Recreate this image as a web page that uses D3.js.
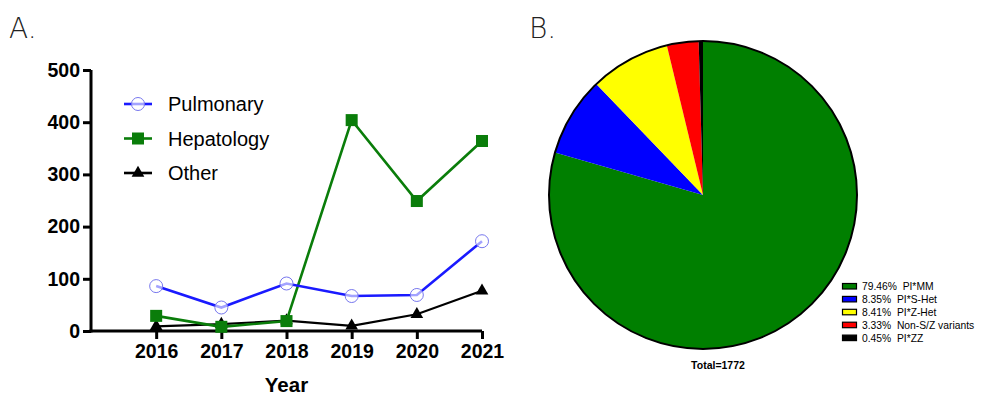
<!DOCTYPE html>
<html>
<head>
<meta charset="utf-8">
<script src="https://cdn.jsdelivr.net/npm/d3@7"></script>
<style>
  html, body { margin: 0; padding: 0; background: #fff; }
  svg { display: block; }
</style>
</head>
<body>
<svg id="chart" width="981" height="396"></svg>
<script>
// Panel A: referrals per year by source
const years = [2016, 2017, 2018, 2019, 2020, 2021];
const pulmonary = [86, 45, 91, 67, 69, 172];
const hepatology = [29, 8, 19, 404, 249, 364];
const other = [9, 13, 20, 10, 32, 77];
const yTicks = [0, 100, 200, 300, 400, 500];
const seriesNames = ["Pulmonary", "Hepatology", "Other"];

// Panel B: genotype distribution
const genotypes = ["PI*MM", "PI*S-Het", "PI*Z-Het", "Non-S/Z variants", "PI*ZZ"];
const shares = [79.46, 8.35, 8.41, 3.33, 0.45];
const totalLabel = "Total=1772";

const svg = d3.select("#chart");
const font = "'Liberation Sans', Arial, sans-serif";

// Panel letters
svg.append("text").attr("x", 9).attr("y", 38).text("A.")
  .attr("font-family", "'DejaVu Sans', sans-serif").attr("font-weight", 200)
  .attr("font-size", 28).attr("fill", "#222");
svg.append("text").attr("x", 529).attr("y", 38).text("B.")
  .attr("font-family", "'DejaVu Sans', sans-serif").attr("font-weight", 200)
  .attr("font-size", 28).attr("fill", "#222");

// ----- Line chart -----
const x = d3.scaleLinear().domain([2015, 2021]).range([91, 482]);
const y = d3.scaleLinear().domain([0, 500]).range([331, 70]);

const gA = svg.append("g");

const yAxis = gA.append("g").attr("transform", "translate(91,0)")
  .call(d3.axisLeft(y).tickValues(yTicks).tickSize(8).tickPadding(3).tickSizeOuter(0));
const xAxis = gA.append("g").attr("transform", "translate(0,331)")
  .call(d3.axisBottom(x).tickValues(years).tickFormat(d3.format("d")).tickSize(8).tickPadding(5).tickSizeOuter(0));

[yAxis, xAxis].forEach(ax => {
  ax.select(".domain").attr("stroke", "#000").attr("stroke-width", 3);
  ax.selectAll(".tick line").attr("stroke", "#000").attr("stroke-width", 3);
  ax.selectAll(".tick text").attr("font-family", font).attr("font-weight", "bold")
    .attr("font-size", 19.5).attr("fill", "#000");
});
// extend the axis lines so they meet at the corner
xAxis.select(".domain").attr("d", `M${x(2015) - 1.5},0H${x(2021)}`);
yAxis.select(".domain").attr("d", `M0,${y(500)}V${y(0) + 1.5}`);

gA.append("text").attr("x", (x(2015) + x(2021)) / 2).attr("y", 392)
  .attr("text-anchor", "middle").attr("font-family", font).attr("font-weight", "bold")
  .attr("font-size", 20.5).text("Year");

const line = d3.line().x(d => x(d[0])).y(d => y(d[1]));
const series = [
  { name: "Pulmonary", values: pulmonary, color: "#1a1aff", marker: "circle" },
  { name: "Hepatology", values: hepatology, color: "#0a7d0a", marker: "square" },
  { name: "Other", values: other, color: "#000", marker: "triangle" }
];

function drawMarker(g, type, cx, cy, color) {
  if (type === "circle") {
    g.append("circle").attr("cx", cx).attr("cy", cy).attr("r", 6.5)
      .attr("fill", "#fff").attr("fill-opacity", 0.6).attr("stroke", "#7777ee").attr("stroke-width", 1);
  } else if (type === "square") {
    g.append("rect").attr("x", cx - 6).attr("y", cy - 6).attr("width", 12).attr("height", 12)
      .attr("fill", color);
  } else {
    g.append("path").attr("transform", `translate(${cx},${cy})`)
      .attr("d", d3.symbol(d3.symbolTriangle, 70)()).attr("fill", color);
  }
}

// draw order: Other under Hepatology under Pulmonary
[series[2], series[1], series[0]].forEach(s => {
  const pts = years.map((yr, i) => [yr, s.values[i]]);
  gA.append("path").datum(pts).attr("d", line).attr("fill", "none")
    .attr("stroke", s.color).attr("stroke-width", s.marker === "triangle" ? 2.2 : 2.6);
  pts.forEach(p => drawMarker(gA, s.marker, x(p[0]), y(p[1]), s.color));
});

// legend
series.forEach((s, i) => {
  const ly = 104 + i * 34.5;
  gA.append("line").attr("x1", 124).attr("x2", 152).attr("y1", ly).attr("y2", ly)
    .attr("stroke", s.color).attr("stroke-width", 2.6);
  drawMarker(gA, s.marker, 138, ly, s.color);
  gA.append("text").attr("x", 168).attr("y", ly + 7).attr("font-family", font)
    .attr("font-size", 20).attr("fill", "#000").text(s.name);
});

// ----- Pie chart -----
const pieColors = ["#007f00", "#0000ff", "#ffff00", "#ff0000", "#000000"];
const cx = 703, cy = 195, radius = 154;
const pie = d3.pie().sort(null).value(d => d)(shares);
const arc = d3.arc().innerRadius(0).outerRadius(radius);
const gB = svg.append("g").attr("transform", `translate(${cx},${cy})`);
gB.selectAll("path.slice").data(pie).join("path").attr("class", "slice")
  .attr("d", arc).attr("fill", (d, i) => pieColors[i]);
gB.append("circle").attr("r", radius).attr("fill", "none").attr("stroke", "#000").attr("stroke-width", 2);

svg.append("text").attr("x", 718).attr("y", 369).attr("text-anchor", "middle")
  .attr("font-family", font).attr("font-weight", "bold").attr("font-size", 10.5).text(totalLabel);

// pie legend
const lg = svg.append("g");
genotypes.forEach((name, i) => {
  const ry = 286 + i * 12.9;
  lg.append("rect").attr("x", 842.5).attr("y", ry - 2.5).attr("width", 14).attr("height", 5.5)
    .attr("fill", pieColors[i]).attr("stroke", "#000").attr("stroke-width", 1.2);
  lg.append("text").attr("x", 862).attr("y", ry + 4).attr("font-family", font)
    .attr("font-size", 10.3).attr("fill", "#000").attr("xml:space", "preserve")
    .text(`${shares[i].toFixed(2)}%  ${name}`);
});
</script>
</body>
</html>
